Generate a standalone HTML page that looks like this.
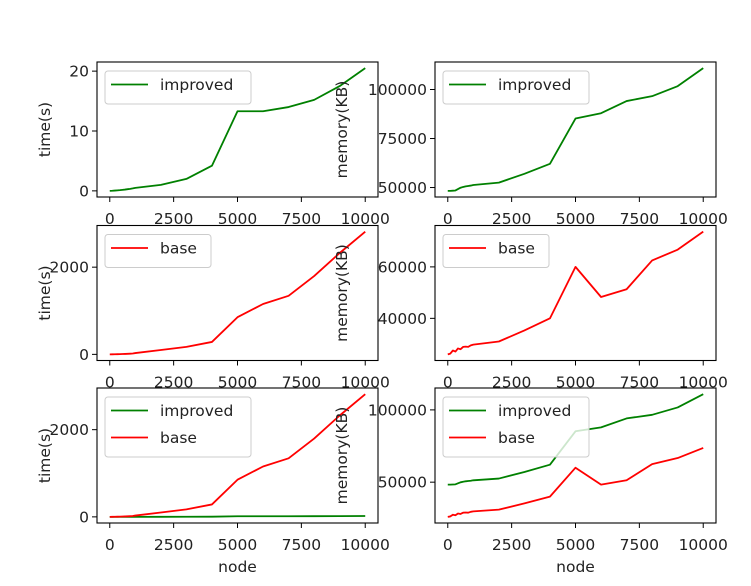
<!DOCTYPE html>
<html><head><meta charset="utf-8"><style>
html,body{margin:0;padding:0;background:#fff;}
svg{display:block;font-family:"DejaVu Sans","Liberation Sans",sans-serif;}
</style></head><body>
<svg id="fig" width="751" height="586" viewBox="0 0 751 586"></svg>
<script>
const nodes = [0,100,200,300,400,500,600,700,800,900,1000,2000,3000,4000,5000,6000,7000,8000,9000,10000];
const improvedTime = [0,0.02,0.05,0.08,0.12,0.17,0.22,0.28,0.34,0.41,0.5,1.0,2.0,4.2,13.3,13.3,14.0,15.2,17.5,20.5];
const baseTime = [0,1,2,4,6,8,10,13,16,20,30,100,172,285,852,1155,1343,1796,2325,2815];
const improvedMem = [48300,48300,48400,48500,49200,49900,50300,50600,50800,51000,51300,52500,57000,62100,85200,87900,94100,96600,101700,110900];
const baseMem = [26000,26300,27500,27100,28300,28000,28900,29000,28900,29500,29800,31000,35300,40000,60000,48300,51300,62500,66700,73700];
const xTicks = [0,2500,5000,7500,10000];
const ticksTimeSmall = [0,10,20];
const ticksTimeLarge = [0,2000];
const ticksMemImproved = [50000,75000,100000];
const ticksMemBase = [40000,60000];
const ticksMemBoth = [50000,100000];

const NS="http://www.w3.org/2000/svg";
const svg=document.getElementById('fig');
function mk(tag,attrs,parent){const e=document.createElementNS(NS,tag);for(const k in attrs)e.setAttribute(k,attrs[k]);(parent||svg).appendChild(e);return e;}

const FS=15.5;
const cols=[97,435], W=281, H=135, tops=[62,225.5,388];
const panels=[
 {r:0,c:0,series:[{y:improvedTime,color:'#008000',label:'improved'}],ticks:ticksTimeSmall,ylabel:'time(s)'},
 {r:0,c:1,series:[{y:improvedMem,color:'#008000',label:'improved'}],ticks:ticksMemImproved,ylabel:'memory(KB)'},
 {r:1,c:0,series:[{y:baseTime,color:'#ff0000',label:'base'}],ticks:ticksTimeLarge,ylabel:'time(s)'},
 {r:1,c:1,series:[{y:baseMem,color:'#ff0000',label:'base'}],ticks:ticksMemBase,ylabel:'memory(KB)'},
 {r:2,c:0,series:[{y:improvedTime,color:'#008000',label:'improved'},{y:baseTime,color:'#ff0000',label:'base'}],ticks:ticksTimeLarge,ylabel:'time(s)'},
 {r:2,c:1,series:[{y:improvedMem,color:'#008000',label:'improved'},{y:baseMem,color:'#ff0000',label:'base'}],ticks:ticksMemBoth,ylabel:'memory(KB)'}
];
const xmin=-500,xmax=10500;
panels.forEach((p,i)=>{
  const x0=cols[p.c], y0=tops[p.r];
  const g=mk('g',{});
  
  
  let lo=Infinity,hi=-Infinity;
  p.series.forEach(s=>s.y.forEach(v=>{lo=Math.min(lo,v);hi=Math.max(hi,v);}));
  const m=(hi-lo)*0.05; lo-=m; hi+=m;
  const sx=v=>x0+(v-xmin)/(xmax-xmin)*W;
  const sy=v=>y0+H-(v-lo)/(hi-lo)*H;
  mk('rect',{x:x0,y:y0,width:W,height:H,fill:'#fff'},g);
  p.series.forEach(s=>{
    const pts=nodes.map((n,j)=>sx(n).toFixed(2)+','+sy(s.y[j]).toFixed(2)).join(' ');
    const l=mk('polyline',{points:pts,fill:'none',stroke:s.color,'stroke-width':1.8,'stroke-linejoin':'round'},g);
    
    
  });
  const fr=mk('rect',{x:x0,y:y0,width:W,height:H,fill:'none',stroke:'#000','stroke-width':1.1},g);
  
  
  xTicks.forEach(t=>{
    const x=sx(t);
    mk('line',{x1:x,x2:x,y1:y0+H,y2:y0+H+5,stroke:'#000','stroke-width':1},g);
    const tx=mk('text',{x:x,y:y0+H+27,'font-size':FS,'text-anchor':'middle',fill:'#222'},g);
    tx.textContent=t;
    
    
  });
  p.ticks.forEach(t=>{
    const y=sy(t);
    mk('line',{x1:x0-5,x2:x0,y1:y,y2:y,stroke:'#000','stroke-width':1},g);
    const tx=mk('text',{x:x0-8,y:y+5.5,'font-size':FS,'text-anchor':'end',fill:'#222'},g);
    tx.textContent=t;
    
    
  });
  const yl=mk('text',{x:0,y:0,'font-size':FS,'text-anchor':'middle',fill:'#222',transform:'translate('+(p.c===0?50:347)+','+(y0+H/2)+') rotate(-90)'},g);
  yl.textContent=p.ylabel;
  
  
  if(p.r===2){
    const xl=mk('text',{x:x0+W/2,y:572,'font-size':FS,'text-anchor':'middle',fill:'#222'},g);
    xl.textContent='node';
    
    
  }
  const n=p.series.length;
  const lg=mk('g',{},g);
  
  
  const lw=p.series.some(s=>s.label==='improved')?146:106;
  mk('rect',{x:x0+8,y:y0+9,width:lw,height:6+n*27,rx:3,fill:'#fff','fill-opacity':0.8,stroke:'#ccc','stroke-width':1},lg);
  p.series.forEach((s,j)=>{
    const cy=y0+22.5+j*27;
    mk('line',{x1:x0+14,x2:x0+51,y1:cy,y2:cy,stroke:s.color,'stroke-width':1.8},lg);
    const t=mk('text',{x:x0+63,y:cy+5.5,'font-size':FS,fill:'#222'},lg);
    t.textContent=s.label;
    
    
  });
});
</script>
</body></html>
